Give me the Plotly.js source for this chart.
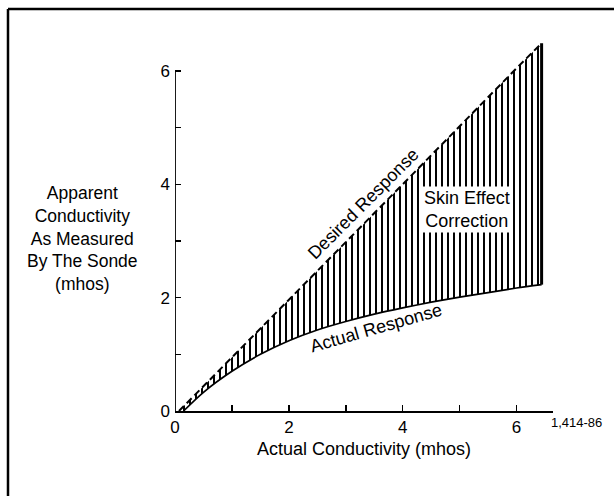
<!DOCTYPE html>
<html>
<head>
<meta charset="utf-8">
<script src="https://cdn.plot.ly/plotly-3.0.1.min.js"></script>
<style>
html,body{margin:0;padding:0;background:#fff;}
#chart{width:614px;height:496px;}
</style>
</head>
<body>
<div id="chart"></div>
<script>
// Data
const actualX = [0.15, 0.5, 1.0, 1.5, 2.0, 2.5, 3.0, 3.5, 4.0, 4.5, 5.0, 5.5, 6.0, 6.44];
const actualY = [0.0, 0.33, 0.70, 1.00, 1.24, 1.43, 1.58, 1.71, 1.82, 1.92, 2.01, 2.09, 2.17, 2.23];
const desiredX = [0.07, 1.0, 2.0, 3.0, 4.0, 5.0, 6.0, 6.44];
const desiredY = [0.0, 0.94, 1.96, 2.98, 4.0, 5.03, 6.05, 6.49];
const edgeX = [6.44, 6.44];
const edgeY = [2.23, 6.49];
const tickVals = [0, 1, 2, 3, 4, 5, 6];
const xTickText = ['0', '', '2', '', '4', '', '6'];
const yTickText = ['0', '', '2', '', '4', '', '6'];

const FONT = 'Liberation Sans, Arial, Helvetica, sans-serif';

const traces = [
  {
    x: actualX, y: actualY, type: 'scatter', mode: 'lines',
    line: {color: '#000', width: 1.7, shape: 'spline', smoothing: 0.8},
    hoverinfo: 'skip', showlegend: false
  },
  {
    x: desiredX, y: desiredY, type: 'scatter', mode: 'lines',
    line: {color: '#000', width: 2, dash: '7px,4px'},
    fill: 'tonexty', fillcolor: '#fff',
    fillpattern: {shape: '|', size: 6, solidity: 0.33, fgcolor: '#000', bgcolor: '#fff', fillmode: 'replace'},
    hoverinfo: 'skip', showlegend: false
  },
  {
    x: edgeX, y: edgeY, type: 'scatter', mode: 'lines',
    line: {color: '#000', width: 3},
    hoverinfo: 'skip', showlegend: false
  }
];

const layout = {
  width: 614, height: 496,
  margin: {l: 175, r: 61, t: 37, b: 85},
  paper_bgcolor: '#fff', plot_bgcolor: 'rgba(0,0,0,0)',
  font: {family: FONT, color: '#000', size: 17},
  showlegend: false,
  xaxis: {
    range: [0, 6.64], showgrid: false, zeroline: false,
    showline: true, linecolor: '#000', linewidth: 2,
    ticks: 'inside', ticklen: 6, tickwidth: 1.5, tickcolor: '#000',
    tickvals: tickVals, ticktext: xTickText,
    tickfont: {family: FONT, size: 17, color: '#000'},
    title: {text: 'Actual Conductivity (mhos)', font: {family: FONT, size: 18, color: '#000'}, standoff: 6}
  },
  yaxis: {
    range: [0, 6.6], showgrid: false, zeroline: false, showline: false,
    ticks: 'inside', ticklen: 6, tickwidth: 1.5, tickcolor: '#000',
    tickvals: tickVals, ticktext: yTickText, ticklabelstandoff: 4,
    tickfont: {family: FONT, size: 17, color: '#000'}
  },
  shapes: [
    // y axis line up to 6
    {type: 'line', xref: 'x', yref: 'y', x0: 0, x1: 0, y0: 0, y1: 6, line: {color: '#000', width: 1.8}},
    // frame (top and left)
    {type: 'line', xref: 'paper', yref: 'paper', x0: -0.4418, x1: 1.17, y0: 1.0749, y1: 1.0749, line: {color: '#000', width: 2.5}},
    {type: 'line', xref: 'paper', yref: 'paper', x0: -0.4418, x1: -0.4418, y0: 1.0749, y1: -0.24, line: {color: '#000', width: 2.5}}
  ],
  annotations: [
    {xref: 'paper', yref: 'paper', x: -0.246, y: 0.461, xanchor: 'center', yanchor: 'middle',
     text: 'Apparent<br>Conductivity<br>As Measured<br>By The Sonde<br>(mhos)', showarrow: false,
     font: {family: FONT, size: 17.5, color: '#000'}, align: 'center'},
    {xref: 'x', yref: 'y', x: 5.13, y: 3.55, xanchor: 'center', yanchor: 'middle',
     text: 'Skin Effect<br>Correction', showarrow: false, bgcolor: '#fff', borderpad: 1,
     font: {family: FONT, size: 18, color: '#000'}, align: 'center'},
    {xref: 'x', yref: 'y', x: 3.30, y: 3.66, xanchor: 'center', yanchor: 'middle',
     text: 'Desired Response', showarrow: false, textangle: -45,
     font: {family: FONT, size: 18, color: '#000'}},
    {xref: 'x', yref: 'y', x: 3.53, y: 1.47, xanchor: 'center', yanchor: 'middle',
     text: 'Actual Response', showarrow: false, textangle: -16,
     font: {family: FONT, size: 18, color: '#000'}},
    {xref: 'paper', yref: 'paper', x: 1.061, y: -0.032, xanchor: 'center', yanchor: 'middle',
     text: '1,414-86', showarrow: false,
     font: {family: FONT, size: 13, color: '#000'}}
  ]
};

Plotly.newPlot('chart', traces, layout, {displayModeBar: false, staticPlot: true});
</script>
</body>
</html>
